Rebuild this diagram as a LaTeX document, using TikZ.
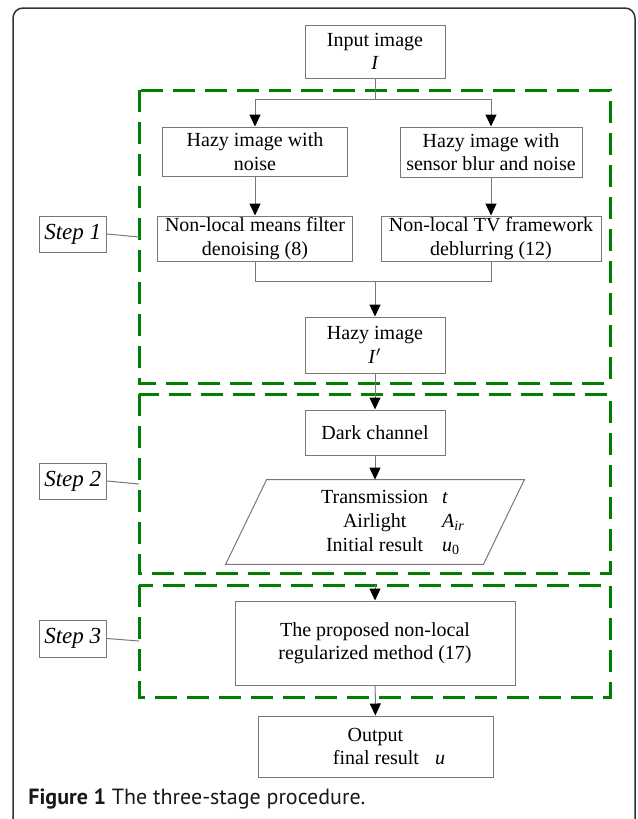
\documentclass[tikz,border=0pt]{standalone}
\usepackage{fontspec}
\setmainfont{Liberation Serif}
\newfontfamily\capfont{PT Sans}
\usetikzlibrary{arrows.meta}
\definecolor{dgreen}{RGB}{0,128,0}
\definecolor{lgray}{RGB}{120,120,120}
\begin{document}
\begin{tikzpicture}[x=0.5pt,y=-0.5pt,
 box/.style={draw=lgray, line width=0.5pt, align=center, inner sep=0pt, font=\fontsize{10}{11.7}\selectfont},
 lbl/.style={draw=lgray, line width=0.5pt, inner sep=0pt, minimum width=33.75pt, minimum height=18pt, font=\fontsize{11.5}{13}\selectfont\itshape},
 grp/.style={draw=dgreen, line width=1.5pt, dash pattern=on 11pt off 5pt},
 con/.style={draw=lgray, line width=0.5pt},
 arr/.style={con, -{Triangle[length=6pt,width=5.5pt,color=black]}},
]
\useasboundingbox (0,0) rectangle (637,819);
\draw[line width=0.75pt, draw=black!80, rounded corners=5pt] (13,860) -- (13,8) -- (635,8) -- (635,860);

% groups
\draw[grp] (139,90) rectangle (610,383);
\draw[grp] (139,394) rectangle (610,573);
\draw[grp] (139,585) rectangle (610,697);

% nodes
\node[box, minimum width=70pt, minimum height=26.5pt] (in) at (375,51.5) {Input image\\\textit{I}};
\node[box, minimum width=92.5pt, minimum height=24.5pt] (h1) at (255,151.5) {Hazy image with\\noise};
\node[box, minimum width=91pt, minimum height=25pt] (h2) at (491,152) {Hazy image with\\sensor blur and noise};
\node[box, minimum width=97.75pt, minimum height=22.5pt] (n1) at (255,238.5) {Non-local means filter\\denoising (8)};
\node[box, minimum width=110pt, minimum height=22.5pt] (n2) at (491,238.5) {Non-local TV framework\\deblurring (12)};
\node[box, minimum width=70pt, minimum height=28pt] (hz) at (375,345) {Hazy image\\\textit{I}$'$};
\node[box, minimum width=70pt, minimum height=22.5pt] (dk) at (375,432.5) {Dark channel};
\node[minimum width=149pt, minimum height=42pt, inner sep=0pt] (para) at (375,522) {};
\draw[con] (para.south west) -- ([xshift=20.5pt]para.north west) -- (para.north east) -- ([xshift=-20.5pt]para.south east) -- cycle;
\node[inner sep=0pt, font=\fontsize{10}{12}\selectfont] (ptext) at (393,523)
 {\begin{tabular}{@{}c@{\hspace{7pt}}l@{}}Transmission & \textit{t}\\ Airlight & \textit{A}\textsubscript{\textit{ir}}\\ Initial result & \textit{u}\textsubscript{0}\end{tabular}};
\node[box, minimum width=140pt, minimum height=42pt] (pr) at (375,643) {The proposed non-local\\regularized method (17)};
\node[box, minimum width=117.5pt, minimum height=30.5pt] (out) at (375.5,746.5) {Output\\\hspace*{13.5pt}final result\hspace{8pt}\textit{u}};

% step labels
\node[lbl] (s1) at (72.75,234) {Step 1};
\node[lbl] (s2) at (72.75,481) {Step 2};
\node[lbl, minimum height=18.5pt] (s3) at (72.75,638.5) {Step 3};
\coordinate (c1) at (139,237);
\coordinate (c2) at (139,484);
\coordinate (c3) at (139,641);
\draw[con] (s1.east) -- (c1);
\draw[con] (s2.east) -- (c2);
\draw[con] (s3.east) -- (c3);

% connectors
\coordinate (br) at (375,99);
\draw[con] (in.south) -- (br);
\draw[arr] (br) -| (h1.north);
\draw[arr] (br) -| (h2.north);
\draw[arr] (h1) -- (n1);
\draw[arr] (h2) -- (n2);
\coordinate (mg) at (375,281);
\draw[con] (n1.south) |- (mg);
\draw[con] (n2.south) |- (mg);
\draw[arr] (mg) -- (hz.north);
\draw[arr] (hz) -- (dk);
\draw[arr] (dk.south) -- (para.north);
\coordinate (d3) at (375,585);
\draw[arr] (d3) -- (pr.north);
\draw[arr] (pr) -- (out);

% caption
\node[anchor=base west, inner sep=0pt, text=black!90] (cap) at (28,804)
 {\resizebox{168.5pt}{!}{\capfont\textbf{Figure 1} The three-stage procedure.}};
\end{tikzpicture}
\end{document}
